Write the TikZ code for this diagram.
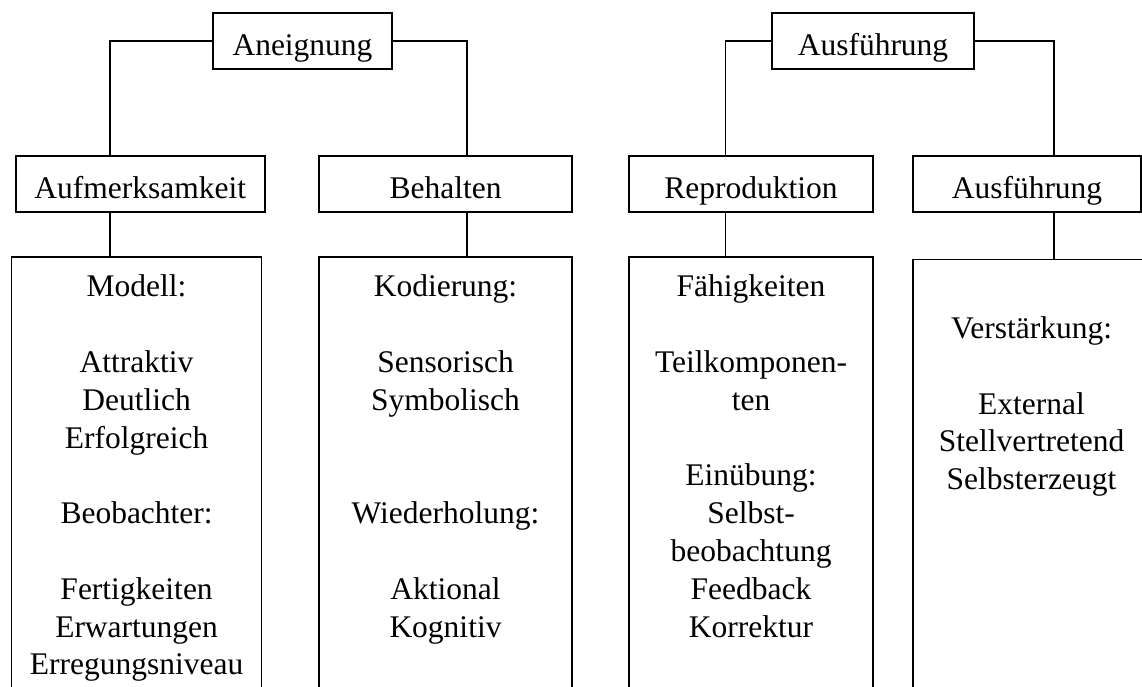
\documentclass[tikz,border=0pt]{standalone}
\usepackage{fontspec}
\setmainfont{Liberation Serif}
\tikzset{
  ln/.style={line width=1.6pt, black},
  lbox/.style={draw, ln, inner sep=0pt, minimum height=56pt, text height=28pt, text depth=0pt,
    font=\fontsize{31.5}{37.8}\selectfont},
  bigbox/.style={draw, ln, inner sep=0pt, minimum height=500pt, anchor=north},
  btext/.style={inner sep=0pt, anchor=north, align=center, font=\fontsize{31.5}{37.8}\selectfont}
}
\begin{document}
\begin{tikzpicture}[x=1pt,y=-1pt]
\useasboundingbox (0,0) rectangle (1142,686);
\clip (0,0) rectangle (1142,686);
\fill[white] (0,0) rectangle (1142,686);
% top level
\node[lbox, minimum width=179pt] (top1) at (302.5,41) {Aneignung};
\node[lbox, minimum width=202pt] (top2) at (873,41) {Ausführung};
% second level
\node[lbox, minimum width=249pt] (a1) at (140.2,184) {Aufmerksamkeit};
\node[lbox, minimum width=253pt] (a2) at (445.5,184) {Behalten};
\node[lbox, minimum width=244pt] (a3) at (751,184) {Reproduktion};
\node[lbox, minimum width=228pt] (a4) at (1027,184) {Ausführung};
% big boxes
\node[bigbox, minimum width=250pt] (b1) at (136.6,256) {};
\node[bigbox, minimum width=253pt] (b2) at (445.5,256) {};
\node[bigbox, minimum width=244pt] (b3) at (751,256) {};
\node[bigbox, minimum width=237pt] (b4) at (1031.5,258.5) {};
% texts
\node[btext, yshift=-14.2pt] (t1) at (b1.north) {\strut Modell:\\[37.8pt]Attraktiv\\Deutlich\\Erfolgreich\\[37.8pt]Beobachter:\\[37.8pt]Fertigkeiten\\Erwartungen\\Erregungsniveau};
\node[btext, yshift=-14.2pt] (t2) at (b2.north) {\strut Kodierung:\\[37.8pt]Sensorisch\\Symbolisch\\[75.6pt]Wiederholung:\\[37.8pt]Aktional\\Kognitiv};
\node[btext, yshift=-14.2pt] (t3) at (b3.north) {\strut Fähigkeiten\\[37.8pt]Teilkomponen-\\ten\\[37.8pt]Einübung:\\Selbst-\\beobachtung\\Feedback\\Korrektur};
\node[btext, yshift=-53.4pt] (t4) at (b4.north) {\strut Verstärkung:\\[37.8pt]External\\Stellvertretend\\Selbsterzeugt};
% junction coordinates
\coordinate (j1) at (110,156);
\coordinate (j2) at (467,156);
\coordinate (j3) at (725.4,156);
\coordinate (j4) at (1054,156);
% connectors
\draw[ln] (top1.west) -| (j1);
\draw[ln] (top1.east) -| (j2);
\draw[ln] (top2.west) -| (j3);
\draw[ln] (top2.east) -| (j4);
\draw[ln] (j1 |- a1.south) -- (j1 |- b1.north);
\draw[ln] (j2 |- a2.south) -- (j2 |- b2.north);
\draw[ln] (j3 |- a3.south) -- (j3 |- b3.north);
\draw[ln] (j4 |- a4.south) -- (j4 |- b4.north);
\end{tikzpicture}
\end{document}
